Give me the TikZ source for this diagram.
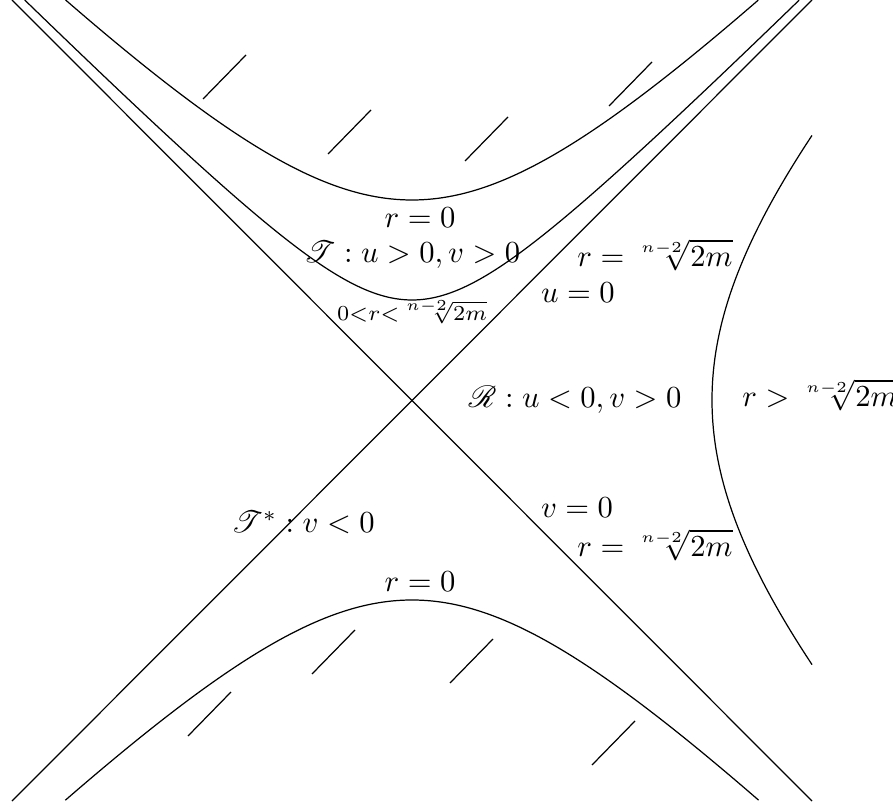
\documentclass[tikz,border=0pt]{standalone}
\usepackage{amsmath}
\usepackage{mathrsfs}
\begin{document}
\begin{tikzpicture}[x=1.149cm,y=1.149cm,
  curve/.style={line width=0.4pt, smooth, samples=120},
  hatch/.style={line width=0.4pt},
  lbl/.style={inner sep=0pt}]
\useasboundingbox (-4.12,-4.09) rectangle (4.81,4.0);
% corners for the two null lines
\coordinate (bl) at (-4,-4.01);
\coordinate (tr) at (4,4);
\coordinate (tl) at (-4,4);
\coordinate (br) at (4,-4.01);
\draw (bl) -- (tr);
\draw (tl) -- (br);
% hyperbolas
\draw[curve] plot[domain=-3.464:3.464] (\x,{sqrt(\x*\x+4)});
\draw[curve] plot[domain=-3.873:3.873] (\x,{sqrt(\x*\x+1)});
\draw[curve] plot[domain=-3.467:3.467] (\x,{-sqrt(\x*\x+4)});
\draw[curve] plot[domain=-2.646:2.646] ({sqrt(\x*\x+9)},\x);
% hatching strokes
\foreach \p in {(-2.09,3.01),(-0.84,2.46),(0.53,2.39),(1.97,2.94),
                (-1.0,-2.74),(0.38,-2.83),(-2.24,-3.36),(1.80,-3.65)}
  \draw[hatch] \p -- ++(0.43,0.44);
% labels
\node[lbl] (rz1) at (0.08,1.82) {$r=0$};
\node[lbl] (T) at (0,1.45) {$\mathscr{T}:u>0,v>0$};
\node[lbl] (rh1) at (2.43,1.45) {$r=\sqrt[n-2]{2m}$};
\node[lbl] (u0) at (1.66,1.07) {$u=0$};
\node[lbl] (rin) at (0,0.88) {$\scriptstyle 0<r<\sqrt[n-2]{2m}$};
\node[lbl] (R) at (1.63,0) {$\mathscr{R}:u<0,v>0$};
\node[lbl] (rout) at (4.08,0.05) {$r>\sqrt[n-2]{2m}$};
\node[lbl] (Ts) at (-1.09,-1.22) {$\mathscr{T}^*:v<0$};
\node[lbl] (v0) at (1.65,-1.08) {$v=0$};
\node[lbl] (rh2) at (2.43,-1.45) {$r=\sqrt[n-2]{2m}$};
\node[lbl] (rz2) at (0.08,-1.82) {$r=0$};
\end{tikzpicture}
\end{document}
